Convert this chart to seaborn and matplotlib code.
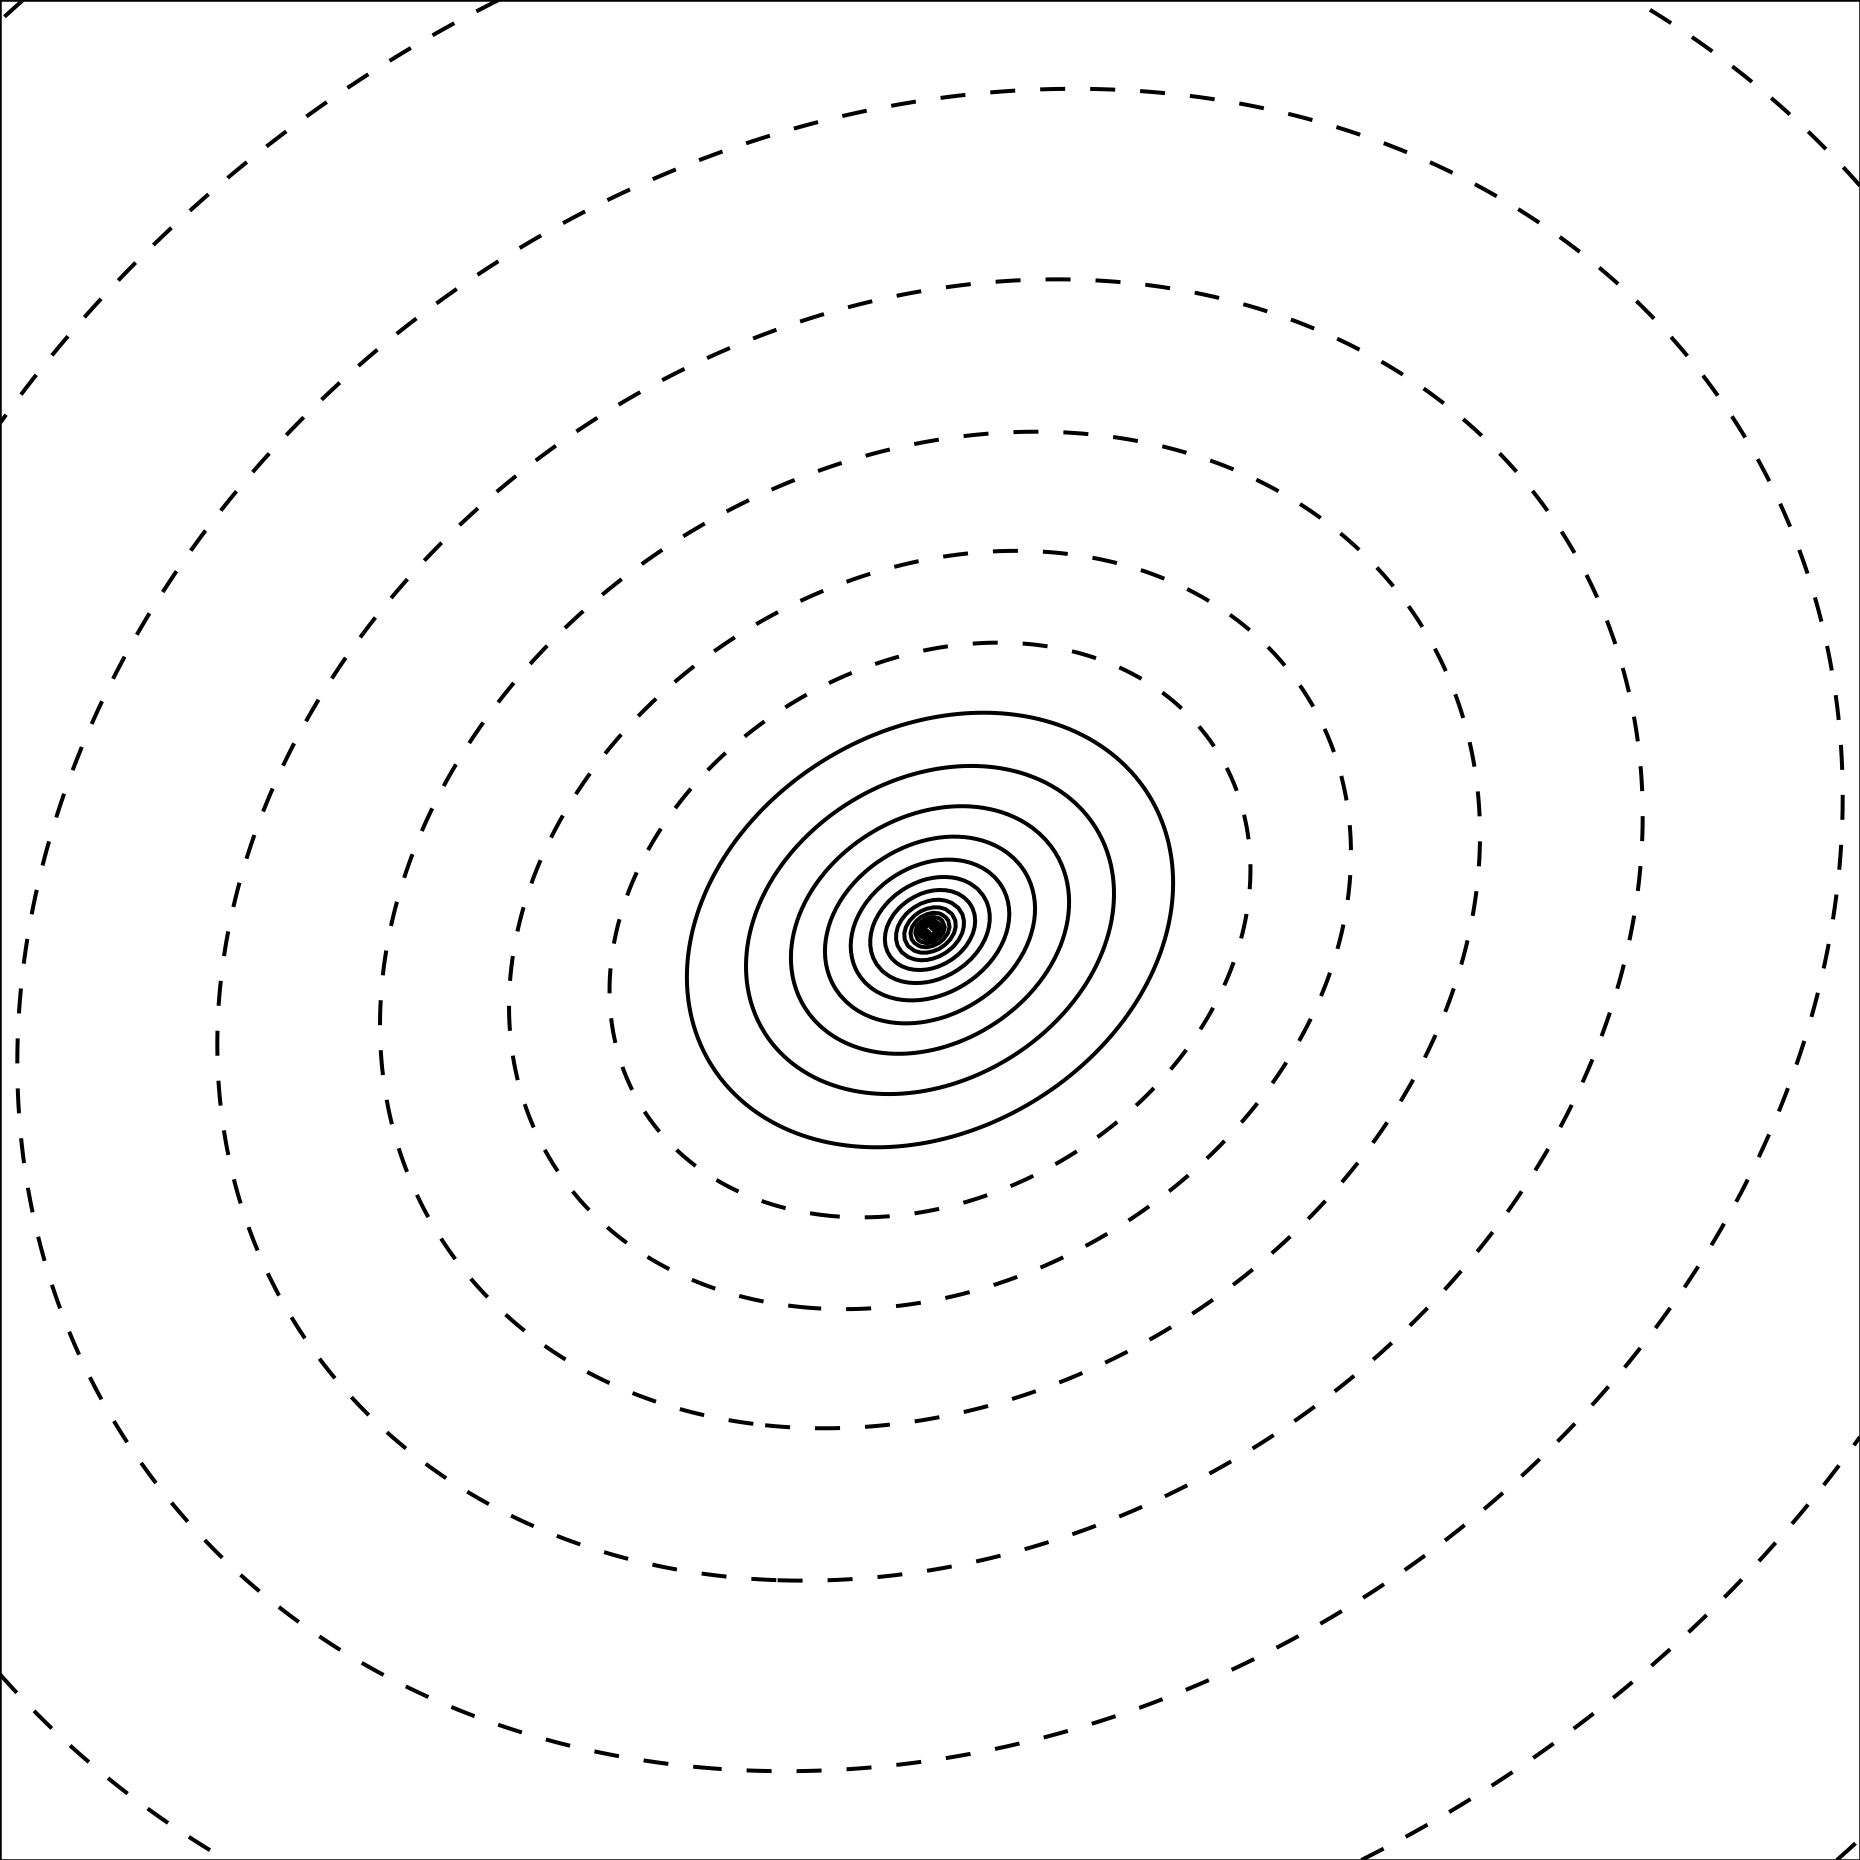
import matplotlib
matplotlib.use("Agg")
import matplotlib.pyplot as plt
import numpy as np
import seaborn as sns

# log-well field on x, y in [-1, 1] (x right, y up):
#   f = (-ln r - 0.5*ANISO_GAIN*ln(qhat)*exp(-ANISO_DECAY*r) - BOWL*r^2 - ZERO_OFFSET) / LEVEL_STEP
#   qhat = (QUAD_XX*x^2 + 2*QUAD_XY*x*y + QUAD_YY*y^2) / (r^2 * sqrt(det))
QUAD_XX = 1.0
QUAD_XY = -0.247
QUAD_YY = 1.255
ANISO_GAIN = 1.08
ANISO_DECAY = 0.3
BOWL = 0.0807
ZERO_OFFSET = 1.405
LEVEL_STEP = 0.2827
GRID_N = 300

NEGATIVE_LEVELS = [-7, -6, -5, -4, -3, -2, -1]
POSITIVE_LEVELS = [0, 1, 2, 3, 4, 5, 6, 7, 8, 9, 10, 11, 12, 13, 14, 15, 16, 17, 18]

DASH = (0, (6.25, 6.25))
LINE_WIDTH = 0.96

sns.set_style("white")


def field(x, y):
    r2 = x**2 + y**2
    r = np.sqrt(r2)
    det = QUAD_XX * QUAD_YY - QUAD_XY**2
    q = QUAD_XX * x**2 + 2 * QUAD_XY * x * y + QUAD_YY * y**2
    qhat = q / (r2 * np.sqrt(det))
    aniso = -0.5 * ANISO_GAIN * np.log(qhat) * np.exp(-ANISO_DECAY * r)
    return (-np.log(r) + aniso - BOWL * r2 - ZERO_OFFSET) / LEVEL_STEP


def main() -> None:
    xs = np.linspace(-1, 1, GRID_N)
    ys = np.linspace(-1, 1, GRID_N)
    xx, yy = np.meshgrid(xs, ys)
    zz = field(xx, yy)

    levels = NEGATIVE_LEVELS + POSITIVE_LEVELS
    styles = [DASH if lv < 0 else "solid" for lv in levels]

    fig = plt.figure(figsize=(6.2, 6.2), dpi=300)
    ax = fig.add_axes([0, 0, 1, 1])
    ax.contour(xx, yy, zz, levels=levels, colors="k",
               linewidths=LINE_WIDTH, linestyles=styles)
    ax.set_xlim(-1, 1)
    ax.set_ylim(-1, 1)
    ax.set_xticks([])
    ax.set_yticks([])
    for spine in ax.spines.values():
        spine.set_color("black")
        spine.set_linewidth(0.6)
        spine.set_visible(True)

    fig.savefig("out.png", dpi=300)
    plt.close(fig)


if __name__ == "__main__":
    main()
